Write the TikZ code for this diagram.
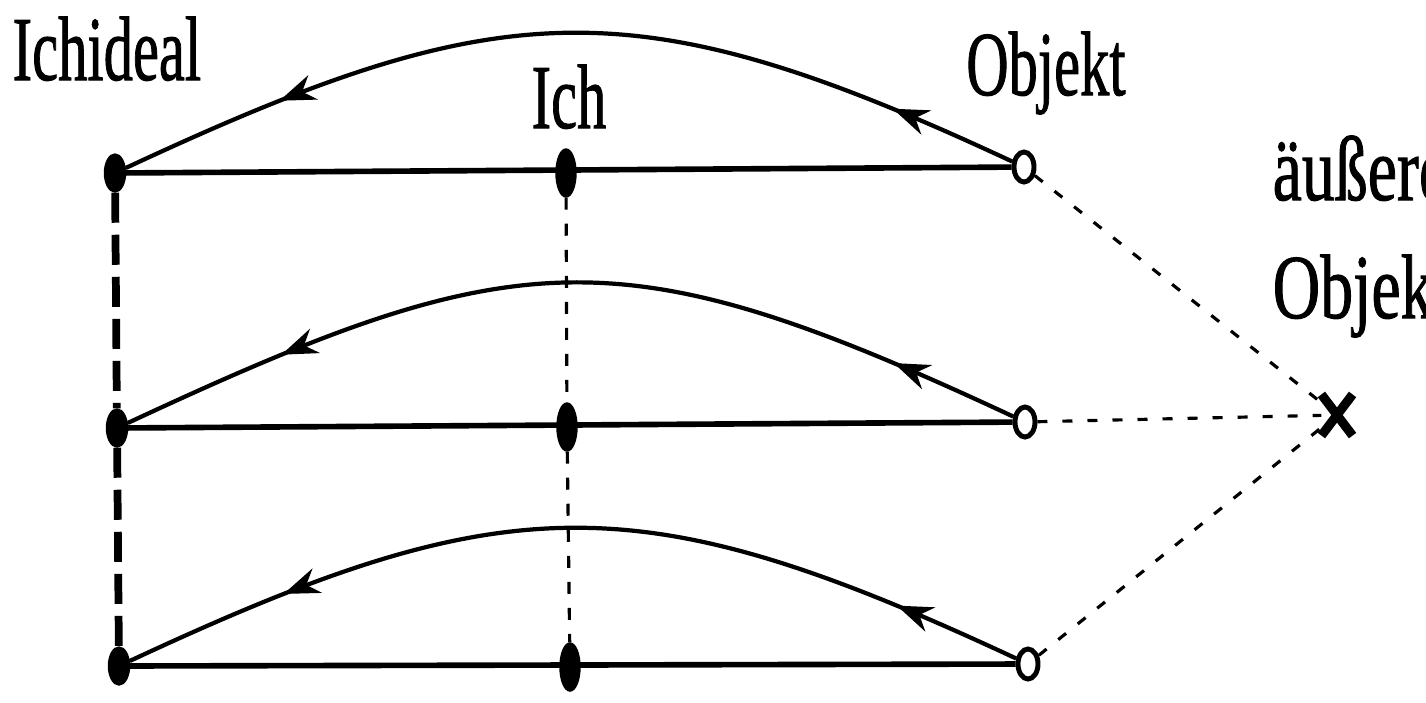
\documentclass[tikz,border=0pt]{standalone}
\usepackage{fontspec}
\setmainfont{Liberation Serif}[FakeBold=1.2]
\usepackage{graphicx}
\usetikzlibrary{arrows.meta,shapes.geometric,shapes.misc,decorations.markings}
\newcommand{\narrow}[1]{\scalebox{0.64}[1]{#1}}

\begin{document}
\begin{tikzpicture}[x=0.01cm,y=-0.01cm,
   lbl/.style={inner sep=0pt,font=\fontsize{26}{33}\selectfont},
   fulldot/.style={draw,fill=black,ellipse,inner sep=0pt,minimum width=2.1mm,minimum height=3.8mm},
   middot/.style={fulldot,minimum width=2mm,minimum height=4.8mm},
   objdot/.style={draw,line width=1.4pt,ellipse,fill=white,inner sep=0pt,minimum width=2mm,minimum height=3mm},
   tie/.style={line width=1.6pt},
   bond/.style={line width=1.2pt,
     postaction={decorate,decoration={markings,
       mark=at position 0.14 with {\arrow{Stealth[length=3.6mm,width=2.6mm]}},
       mark=at position 0.82 with {\arrow{Stealth[length=3.6mm,width=2.6mm]}}}}},
   idline/.style={line width=2.2pt,dash pattern=on 3mm off 1.2mm},
   egoline/.style={line width=0.9pt,dash pattern=on 1.2mm off 1.4mm},
   extline/.style={line width=0.9pt,dash pattern=on 1mm off 1.5mm}]
  \useasboundingbox[fill=white] (0,0) rectangle (1426,702);

  % Ichideal / Ich / Objekt in drei Reihen
  \node[fulldot] (i1) at (115,173) {};
  \node[fulldot] (i2) at (117,428) {};
  \node[fulldot] (i3) at (119,666) {};
  \node[middot]  (m1) at (566,173) {};
  \node[middot]  (m2) at (567,427) {};
  \node[middot]  (m3) at (570,667) {};
  \node[objdot]  (o1) at (1024,167) {};
  \node[objdot]  (o2) at (1025,422) {};
  \node[objdot]  (o3) at (1028,664) {};
  \node[draw,cross out,line width=2.6pt,inner sep=0pt,minimum width=2.2mm,minimum height=3.2mm] (ext) at (1337,415) {};

  \node[lbl,anchor=base west] (tideal) at (12,80) {\narrow{Ichideal}};
  \node[lbl,anchor=base] (tich) at (569,128) {\narrow{Ich}};
  \node[lbl,anchor=base] (tobj) at (1046,95) {\narrow{Objekt}};
  \node[lbl,anchor=base west] (text1) at (1272,200) {\scalebox{0.72}[1]{äußeres}};
  \node[lbl,anchor=base west] (text2) at (1272,318) {\scalebox{0.72}[1]{Objekt}};

  \draw[tie] (i1) -- (o1);
  \draw[tie] (i2) -- (o2);
  \draw[tie] (i3) -- (o3);
  \draw[bond] (o1) to[out=155,in=25,looseness=1.2] (i1);
  \draw[bond] (o2) to[out=155,in=25,looseness=1.25] (i2);
  \draw[bond] (o3) to[out=155,in=25,looseness=1.2] (i3);

  \draw[idline] (i1) -- (i2) -- (i3);
  \draw[egoline] (m1) -- (m2) -- (m3);
  \draw[extline] (o1) -- (ext);
  \draw[extline] (o2) -- (ext);
  \draw[extline] (o3) -- (ext);
\end{tikzpicture}
\end{document}
